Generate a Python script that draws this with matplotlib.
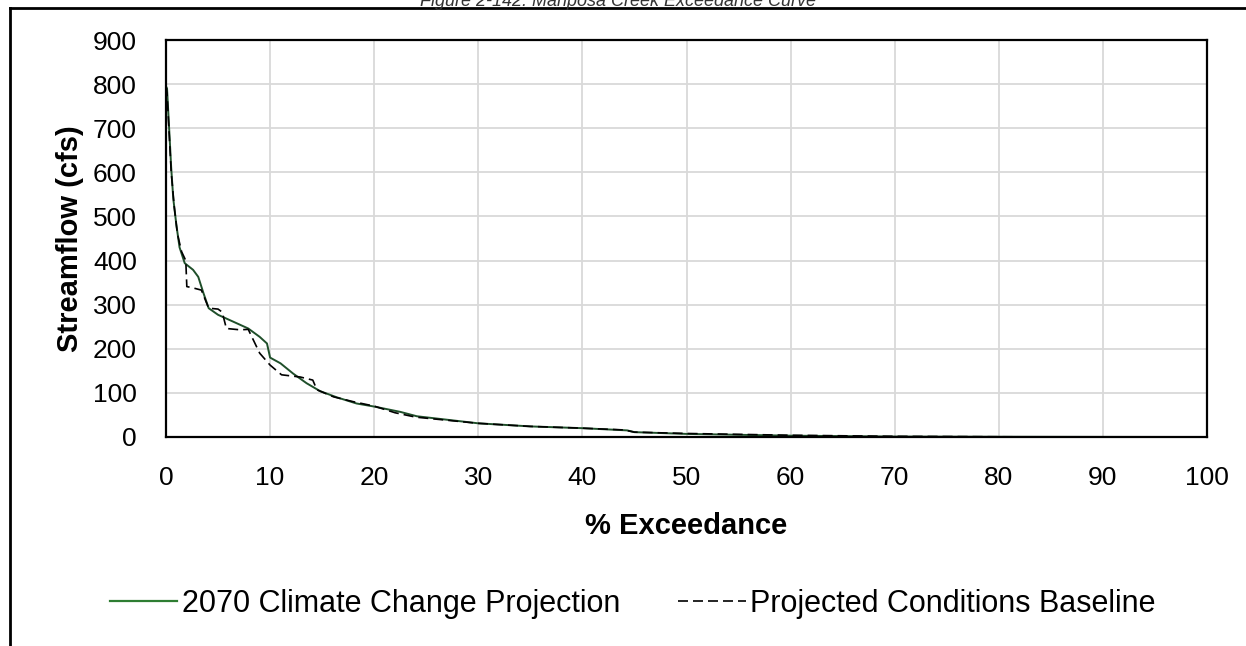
import numpy as np
import matplotlib
matplotlib.use("Agg")
import matplotlib.pyplot as plt
from matplotlib.lines import Line2D

plt.rcParams['font.family'] = ['Liberation Sans', 'DejaVu Sans']

# 2070 climate change projection (solid)
exc_cc = [0, 0.1, 0.3, 0.5, 0.7, 1.0, 1.3, 1.8, 2.6, 3.1, 3.6, 4.1, 5.0, 6.5, 7.9,
          9.0, 9.7, 10.0, 11.0, 12.2, 13.5, 14.8, 16.4, 18.3, 20, 22.5, 24.1, 30,
          35, 40, 44.3, 45, 50, 55, 60, 65, 70, 80, 90, 100]
flow_cc = [795, 790, 700, 610, 540, 480, 430, 394, 379, 363, 326, 292, 277, 261, 246,
           227, 212, 180, 167, 144, 122, 104, 90, 76, 69, 57, 47, 31,
           24, 20, 15, 11, 7, 5, 3, 2, 1, 0.5, 0.2, 0]

# projected conditions baseline (dashed)
exc_base = [0, 0.1, 0.3, 0.5, 0.8, 1.1, 1.5, 1.9, 2.0, 2.6, 3.4, 4.1, 5.0, 5.4, 5.8,
            7.1, 7.9, 9.0, 10.0, 11.1, 12.9, 14.1, 14.5, 16.1, 18, 20, 22, 24, 30,
            35, 40, 44, 45, 50, 60, 70, 80, 88]
flow_base = [795, 780, 690, 600, 520, 460, 420, 400, 341, 338, 333, 292, 290, 283, 246,
             243, 244, 190, 163, 141, 136, 129, 107, 91, 80, 70, 55, 45, 31,
             24, 20, 16, 11, 8, 4, 1.5, 0.5, 0]

fig = plt.figure(figsize=(12.46, 6.46), dpi=100)
ax = fig.add_axes([166/1246, 1-437/646, (1207-166)/1246, (437-40)/646])

ax.plot(exc_cc, flow_cc, color='#1f4f2a', linewidth=1.4, label='2070 Climate Change Projection')
ax.plot(exc_base, flow_base, color='black', linewidth=1.2, dashes=(6, 3),
        label='Projected Conditions Baseline')

ax.set_xlim(0, 100)
ax.set_ylim(0, 900)
ax.set_xticks(np.arange(0, 101, 10))
ax.set_yticks(np.arange(0, 901, 100))
ax.grid(True, color='#d9d9d9', linewidth=1.3)
ax.set_axisbelow(True)
ax.tick_params(length=0, labelsize=19, pad=21)
for s in ax.spines.values():
    s.set_linewidth(1.6)
    s.set_color('black')

ax.set_xlabel('% Exceedance', fontsize=21, fontweight='bold', labelpad=16)
ax.set_ylabel('Streamflow (cfs)', fontsize=21, fontweight='bold', labelpad=6)

# legend handles: green solid in the legend
h1 = Line2D([], [], color='#2e7d32', linewidth=1.6)
h2 = Line2D([], [], color='black', linewidth=1.2, dashes=(6, 3))
fig.legend([h1, h2], ['2070 Climate Change Projection', 'Projected Conditions Baseline'],
           loc='center', bbox_to_anchor=(633/1246, 1-604/646), ncol=2, frameon=False,
           fontsize=22, handlelength=2.2, handletextpad=0.15, columnspacing=1.9)

# caption, cut off at the top as in the source
fig.text(618/1246, 1-1/646, 'Figure 2-142: Mariposa Creek Exceedance Curve', ha='center',
         va='center', fontsize=13, style='italic', color='#333333')

# outer frame
fig.add_artist(Line2D([10/1246, 1.0], [1-8/646, 1-8/646], transform=fig.transFigure,
                      color='black', linewidth=2))
fig.add_artist(Line2D([10/1246, 10/1246], [1-8/646, 0], transform=fig.transFigure,
                      color='black', linewidth=2))

fig.savefig('out.png', dpi=100)
